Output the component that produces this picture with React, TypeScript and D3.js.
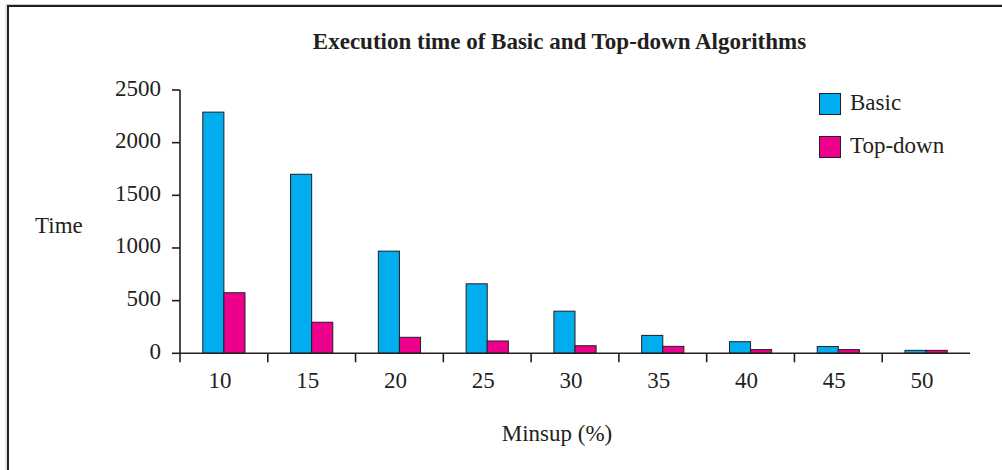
import React from "react";
import * as d3 from "d3";

const categories = ["10", "15", "20", "25", "30", "35", "40", "45", "50"];
const basicValues = [2290, 1700, 970, 660, 400, 170, 110, 64, 28];
const topDownValues = [575, 295, 152, 117, 72, 66, 35, 35, 28];
const seriesNames = ["Basic", "Top-down"];
const seriesColors = ["#00AEEF", "#EC008C"];
const yTicks = [0, 500, 1000, 1500, 2000, 2500];

const W = 1002;
const H = 470;
const FONT = "'Liberation Serif', 'Times New Roman', serif";
const INK = "#231f20";
const FS = 23;

export default function App() {
  const x0 = d3.scaleBand<string>().domain(categories).range([180, 970]).padding(0);
  const x1 = d3
    .scaleBand<string>()
    .domain(seriesNames)
    .range([0, x0.bandwidth()])
    .paddingInner(0)
    .paddingOuter(1.08);
  const y = d3.scaleLinear().domain([0, 2500]).range([353.3, 90]);
  const data = [basicValues, topDownValues];

  return (
    <svg
      width={W}
      height={H}
      style={{ position: "absolute", left: 0, top: 0, background: "#fff" }}
      fontFamily={FONT}
    >
      <rect x={0} y={0} width={W} height={H} fill="#fff" />
      {/* frame */}
      <line x1={6} y1={4.5} x2={W} y2={4.5} stroke="#ccc" strokeWidth={1} />
      <line x1={6} y1={4.5} x2={6} y2={H} stroke="#ccc" strokeWidth={1} />
      <rect x={8} y={6} width={W + 20} height={H + 20} fill="none" stroke={INK} strokeWidth={2} />

      <text x={559.5} y={49} textAnchor="middle" fontWeight="bold" fontSize={FS} fill={INK}>
        Execution time of Basic and Top-down Algorithms
      </text>

      {/* bars */}
      {data.map((vals, si) =>
        categories.map((c, i) => {
          const bx = (x0(c) as number) + (x1(seriesNames[si]) as number);
          const yv = y(vals[i]);
          return (
            <rect
              key={`${si}-${i}`}
              x={bx}
              y={yv}
              width={x1.bandwidth()}
              height={y(0) - yv}
              fill={seriesColors[si]}
              stroke={INK}
              strokeWidth={1}
            />
          );
        })
      )}

      {/* y axis */}
      <line x1={180} y1={y(2500)} x2={180} y2={y(0)} stroke={INK} strokeWidth={1.6} />
      {yTicks.map((t) => (
        <g key={t}>
          <line x1={172} y1={y(t)} x2={180} y2={y(t)} stroke={INK} strokeWidth={1.6} />
          <text x={161} y={y(t) + 5.5} textAnchor="end" fontSize={FS} fill={INK}>
            {t}
          </text>
        </g>
      ))}

      {/* x axis */}
      <line x1={180} y1={y(0)} x2={970} y2={y(0)} stroke={INK} strokeWidth={1.6} />
      {categories.map((c, i) => (
        <line
          key={`t${i}`}
          x1={(x0(c) as number)}
          y1={y(0)}
          x2={(x0(c) as number)}
          y2={y(0) + 9}
          stroke={INK}
          strokeWidth={1.6}
        />
      ))}
      {categories.map((c) => (
        <text
          key={`l${c}`}
          x={(x0(c) as number) + x0.bandwidth() / 2 - 4}
          y={388}
          textAnchor="middle"
          fontSize={FS}
          fill={INK}
        >
          {c}
        </text>
      ))}

      <text x={35} y={233} fontSize={FS} fill={INK}>
        Time
      </text>
      <text x={557} y={441} textAnchor="middle" fontSize={FS} fill={INK}>
        Minsup (%)
      </text>

      {/* legend */}
      {seriesNames.map((s, i) => (
        <g key={s}>
          <rect
            x={819.5}
            y={93.5 + i * 43}
            width={21}
            height={21}
            fill={seriesColors[i]}
            stroke={INK}
            strokeWidth={1}
          />
          <text x={850} y={110 + i * 43} fontSize={FS} fill={INK}>
            {s}
          </text>
        </g>
      ))}
    </svg>
  );
}
